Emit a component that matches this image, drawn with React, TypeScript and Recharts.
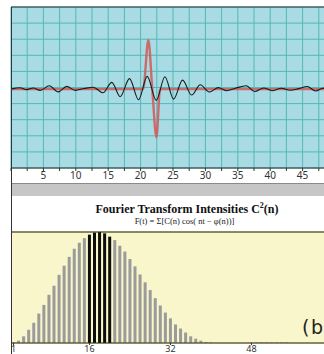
import React from 'react';
import { LineChart, Line, XAxis, YAxis, CartesianGrid, BarChart, Bar, Cell } from 'recharts';

// ---- top panel: wave packet F(t) ----
const timeTicks = [0, 2.5, 5, 7.5, 10, 12.5, 15, 17.5, 20, 22.5, 25, 27.5, 30, 32.5, 35, 37.5, 40, 42.5, 45, 47.5, 50];
const timeLabels = [5, 10, 15, 20, 25, 30, 35, 40, 45];
const ampTicks = [-5, -4, -3, -2, -1, 0, 1, 2, 3, 4, 5];

const redT = [0, 20.4, 21.2, 21.8, 22.45, 23.0, 50];
const redF = [-0.1, -0.1, 2.95, -0.1, -3.09, -0.1, -0.1];

const blackT = [0, 1.4, 2.4, 3.45, 4.5, 5.9, 7.3, 8.6, 9.9, 11.3, 12.7, 14.2, 15.56, 16.85, 18.29, 19.68, 21.02, 22.41, 23.75, 25.09, 26.48, 27.87, 29.21, 30.6, 32.0, 33.3, 34.6, 36.3, 37.6, 39.0, 40.3, 41.7, 43.1, 44.4, 45.7, 47.0, 48.2, 49.5, 50];
const blackF = [-0.1, -0.02, -0.13, -0.03, -0.18, 0.11, -0.27, 0.07, -0.18, -0.06, 0.02, -0.33, 0.32, -0.57, 0.55, -0.76, 0.69, -0.8, 0.67, -0.72, 0.46, -0.47, 0.17, -0.28, -0.01, -0.2, -0.05, 0.11, -0.25, -0.03, -0.2, -0.05, -0.17, -0.07, 0.06, -0.22, -0.04, -0.15, -0.1];

// ---- bottom panel: Fourier intensities C^2(n) ----
const harmonicTicks = [1, 16, 32, 48];
const intensityTicks = [0, 25, 50, 75, 100];
const intensities = [
  0.5, 2.1, 6, 11.9, 18.2, 26.5, 34.3, 43.4, 51.6, 61.4,
  69.6, 77.6, 84.9, 90.3, 94.5, 97.6, 99.5, 100, 98.8, 95.8,
  92.7, 87.6, 82.4, 75.7, 69, 61.7, 54.7, 47.7, 40.4, 33.8,
  27.4, 22.2, 16.7, 13, 9.4, 6, 3.9, 2.1, 0.9, 0.5,
  0, 0, 0, 0, 0, 0, 0, 0.6, 0.6, 0.6,
  0.6, 0.6, 0.6, 0.6, 0.6, 0, 0, 0, 0, 0,
  0, 0, 0, 0,
];
const highlighted = [16, 17, 18, 19, 20];

const redData = redT.map((t, i) => ({ t, v: redF[i] }));
const blackData = blackT.map((t, i) => ({ t, v: blackF[i] }));
const barData = intensities.map((v, i) => ({ n: i + 1, v }));

const SANS = '"Noto Sans", "Open Sans", sans-serif';
const SERIF = '"Liberation Serif", "DejaVu Serif", serif';

const ampGridGenerator = (props: any) => {
  const scale = props?.yAxis?.scale;
  if (typeof scale === 'function') return ampTicks.map((v) => scale(v));
  if (scale && typeof scale.map === 'function') return ampTicks.map((v) => scale.map(v));
  return [];
};

export default function App() {
  return (
    <div style={{ position: 'fixed', left: 0, top: 0, width: 324, height: 354, overflow: 'hidden', background: '#ffffff' }}>
      <div style={{ position: 'absolute', left: 0, top: 0 }}>
        <LineChart width={345} height={183} data={blackData} margin={{ top: 0, right: 10, left: 11, bottom: 0 }}>
          <CartesianGrid
            fill="#a8dbe3"
            stroke="#52b9b8"
            strokeOpacity={1}
            horizontalCoordinatesGenerator={ampGridGenerator}
          />
          <XAxis
            xAxisId="top"
            orientation="top"
            type="number"
            dataKey="t"
            domain={[0, 50]}
            height={7}
            tick={false}
            tickLine={false}
            axisLine={{ stroke: '#333' }}
          />
          <XAxis
            type="number"
            dataKey="t"
            domain={[0, 50]}
            ticks={timeTicks}
            interval={0}
            height={15}
            tickSize={3}
            tickMargin={1}
            tickFormatter={(v: number) => (timeLabels.includes(v) ? String(v) : '')}
            tick={{ fontSize: 10, fill: '#333', fontFamily: SANS }}
            tickLine={{ stroke: '#333' }}
            axisLine={{ stroke: '#333' }}
          />
          <YAxis
            type="number"
            domain={[-5, 5]}
            ticks={ampTicks}
            interval={0}
            width={0}
            tickLine={false}
            axisLine={false}
            tick={{ fontSize: 0 }}
            tickFormatter={() => ''}
          />
          <Line data={redData} dataKey="v" type="monotone" stroke="#cf5e5e" strokeWidth={2.4} strokeOpacity={0.9} dot={false} isAnimationActive={false} />
          <Line data={blackData} dataKey="v" type="monotone" stroke="#1a1a1a" strokeWidth={1.1} dot={false} isAnimationActive={false} />
        </LineChart>
      </div>

      <div style={{ position: 'absolute', left: 0, top: 225 }}>
        <BarChart width={345} height={133} data={barData} margin={{ top: 0, right: 10, left: 11, bottom: 0 }} barSize={3}>
          <CartesianGrid fill="#f8f6ca" stroke="#c9c43a" strokeOpacity={1} vertical={false} />
          <XAxis
            xAxisId="top"
            orientation="top"
            type="number"
            dataKey="n"
            domain={[0.5, 64.5]}
            ticks={harmonicTicks}
            interval={0}
            height={7}
            tickSize={3}
            tick={false}
            tickLine={{ stroke: '#333' }}
            axisLine={{ stroke: '#333' }}
          />
          <XAxis
            type="number"
            dataKey="n"
            domain={[0.5, 64.5]}
            ticks={harmonicTicks}
            interval={0}
            height={15}
            tickSize={2}
            tickMargin={1}
            tick={{ fontSize: 9, fill: '#333', fontFamily: SANS }}
            tickLine={{ stroke: '#333' }}
            axisLine={{ stroke: '#333' }}
          />
          <YAxis
            type="number"
            domain={[0, 100]}
            ticks={intensityTicks}
            interval={0}
            width={0}
            tick={false}
            tickLine={false}
            axisLine={false}
          />
          <Bar dataKey="v" isAnimationActive={false}>
            {barData.map((d) => (
              <Cell key={d.n} fill={highlighted.includes(d.n) ? '#0d0d0d' : '#9b9b9b'} />
            ))}
          </Bar>
        </BarChart>
      </div>

      <svg width={324} height={354} style={{ position: 'absolute', left: 0, top: 0, pointerEvents: 'none' }}>
        <rect x={11} y={183} width={313} height={13} fill="#c6c6c6" />
        <line x1={11} x2={324} y1={183.5} y2={183.5} stroke="#8a8a8a" strokeWidth={1} />
        <line x1={11.5} x2={11.5} y1={7} y2={354} stroke="#333" strokeWidth={1} />
        <text x={187} y={212.5} textAnchor="middle" fontFamily={SERIF} fontWeight="bold" fontSize={12} fill="#111">
          Fourier Transform Intensities C
          <tspan fontSize={8} dy={-4.5}>2</tspan>
          <tspan dy={4.5}>(n)</tspan>
        </text>
        <text x={184.5} y={223.5} textAnchor="middle" fontFamily={SERIF} fontSize={8.5} fill="#222">
          F(t) = Σ[C(n) cos( nt − φ(n))]
        </text>
        <text x={302} y={334} fontFamily='"DejaVu Sans", sans-serif' fontSize={19} letterSpacing={1.5} fill="#222">(b)</text>
      </svg>
    </div>
  );
}
